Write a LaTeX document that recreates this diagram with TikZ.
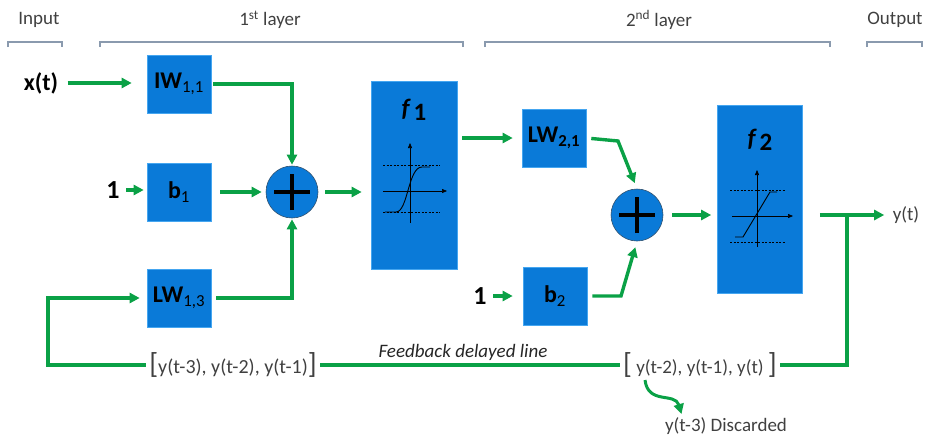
\documentclass[tikz,border=0pt]{standalone}
\usepackage{fontspec}
\setmainfont{Carlito}
\usetikzlibrary{arrows.meta,calc,positioning}
\definecolor{netBlue}{HTML}{0A7AD8}
\definecolor{netEdge}{HTML}{45A6F0}
\definecolor{netGreen}{HTML}{0AA146}
\definecolor{netGray}{HTML}{404040}
\definecolor{netRule}{HTML}{8A9AAE}
\newcommand{\tallL}{{\fontsize{29}{29}\selectfont[}}
\newcommand{\tallR}{{\fontsize{29}{29}\selectfont]}}

\begin{document}
\begin{tikzpicture}[x=1pt, y=-1pt,
        every node/.style={font=\fontsize{19}{22}\selectfont, text=netGray},
        blk/.style={fill=netBlue, draw=netEdge, line width=0.6pt, minimum width=64pt, minimum height=58pt, inner sep=0pt, text=black, font=\fontsize{24}{26}\selectfont\bfseries},
        fbox/.style={blk, minimum width=86pt, minimum height=188pt},
        sumc/.style={circle, fill=netBlue, draw=netGray!70!netBlue, line width=0.6pt, minimum size=52pt,
            path picture={\draw[black, line width=4.8pt]
                ([xshift=-18pt]path picture bounding box.center) -- ([xshift=18pt]path picture bounding box.center)
                ([yshift=-18pt]path picture bounding box.center) -- ([yshift=18pt]path picture bounding box.center);}},
        big/.style={font=\fontsize{24}{26}\selectfont\bfseries, text=black},
        ar/.style={-{Triangle[length=10pt,width=10pt]}, line width=3.4pt, netGreen, shorten >=6pt, shorten <=6pt},
        ln/.style={line width=3.4pt, netGreen},
        brk/.style={netRule, line width=1.2pt},
        axs/.style={-{Triangle[length=5pt,width=4pt]}, black, line width=0.6pt},
        lvl/.style={black, line width=0.5pt, dash pattern=on 2pt off 1.5pt}
    ]
    \useasboundingbox (0,0) rectangle (927,437);

    % layer headings
    \node (hin) at (39,20) {Input};
    \node (hl1) at (270,20) {1\textsuperscript{st} layer};
    \node (hl2) at (659,20) {2\textsuperscript{nd} layer};
    \node (hout) at (895,20) {Output};
    \draw[brk] (8,47) |- (62,42) -- (62,47);
    \draw[brk] (100,47) |- (463,42) -- (463,47);
    \draw[brk] (485,47) |- (830,42) -- (830,47);
    \draw[brk] (867,47) |- (922,42) -- (922,47);

    % first layer
    \node[big] (xin) at (41,83) {x(t)};
    \node[big, font=\fontsize{26}{28}\selectfont\bfseries] (one1) at (113,190) {1};
    \node[blk] (iw11) at (179,84) {IW\textsubscript{\mdseries 1,1}};
    \node[blk] (b1) at (179,192) {b\textsubscript{\mdseries 1}};
    \node[blk] (lw13) at (179,298) {LW\textsubscript{\mdseries 1,3}};
    \node[sumc] (s1) at (292,192) {};
    \node[fbox] (f1) at (414,175) {};
    \node[font=\fontsize{25}{27}\selectfont\bfseries\itshape, text=black] (f1lab) at ([yshift=-29pt]f1.north) {f\,\raisebox{-4pt}{\upshape 1}};

    % second layer
    \node[blk] (lw21) at (554,138) {LW\textsubscript{2,1}};
    \node[big, font=\fontsize{26}{28}\selectfont\bfseries] (one2) at (480,296) {1};
    \node[blk] (b2) at (555,296) {b\textsubscript{\mdseries 2}};
    \node[sumc] (s2) at (637,215) {};
    \node[fbox, minimum width=85pt] (f2) at (760,199) {};
    \node[font=\fontsize{25}{27}\selectfont\bfseries\itshape, text=black] (f2lab) at ([yshift=-35pt]f2.north) {f\,\raisebox{-4pt}{\upshape 2}};
    \node (yout) at (906,215) {y(t)};

    % tapped delay line
    \node[font=\fontsize{20}{22}\selectfont] (d1) at (233,365) {\tallL y(t-3), y(t-2), y(t-1)\tallR};
    \node (d2) at (700,365) {\tallL\ y(t-2), y(t-1), y(t)\ \tallR};
    \node[font=\fontsize{19}{22}\selectfont\itshape, text=black!85] (fbk) at (463,352) {Feedback delayed line};
    \node (disc) at (726,426) {y(t-3) Discarded};
    \coordinate (fbl) at (48,365);
    \coordinate (tap) at (847,215);
    \coordinate (k1) at (618,141);
    \coordinate (k2) at (621,296);
    \coordinate (drop) at (645,380);

    % transfer curves
    \begin{scope}[shift={($(f1.center)+(-4,16)$)}]
        \draw[lvl] (-27,-26) -- (30,-26) (-27,21) -- (30,21);
        \draw[axs] (-27,0) -- (37,0);
        \draw[axs] (0,32) -- (0,-48);
        \draw[black, line width=0.9pt] (-25,21) -- (-14,21) .. controls (-2,21) and (-2,-24) .. (12,-24) -- (20,-24);
    \end{scope}
    \begin{scope}[shift={($(f2.center)+(-3,17)$)}]
        \draw[lvl] (-27,-26) -- (28,-26) (-27,26) -- (28,26);
        \draw[axs] (-25,0) -- (36,0);
        \draw[axs] (0,31) -- (0,-46);
        \draw[black, line width=0.9pt] (-22,21) -- (-14,21) -- (13,-24) -- (20,-24);
    \end{scope}

    % connections
    \draw[ar, shorten >=15pt] (xin) -- (xin -| iw11.west);
    \draw[ar, shorten <=3pt, shorten >=3pt] (one1) -- (one1 -| b1.west);
    \draw[ar, shorten <=9pt, shorten >=4pt] (b1) -- (s1);
    \draw[ar, shorten <=2pt, shorten >=1pt] (iw11.east) -| (s1.north);
    \draw[ar, shorten <=5pt, shorten >=1pt] (lw13.east) -| (s1.south);
    \draw[ar, shorten <=7pt, shorten >=9pt] (s1) -- (s1 -| f1.west);
    \draw[ar, shorten <=5pt, shorten >=9pt] (f1.east |- lw21) -- (lw21.west);
    \draw[ar, shorten <=5pt] (lw21.east) -- (k1) -- (s2.north);
    \draw[ar, shorten <=3pt, shorten >=10pt] (one2) -- (b2);
    \draw[ar, shorten <=5pt] (b2.east) -- (k2) -- (s2.south);
    \draw[ar, shorten <=9pt, shorten >=6pt] (s2) -- (s2 -| f2.west);
    \draw[ar, shorten <=17pt, shorten >=5pt] (f2.east |- s2) -- (yout.west);
    \draw[ln] (tap) |- (d2.east);
    \draw[ln] (d1.east) -- (d2.west);
    \draw[ar, shorten <=0pt, shorten >=7pt] (d1.west) -- (fbl) |- (lw13.west);
    \draw[ar, line width=3pt, shorten <=0pt, shorten >=0pt] (drop) .. controls (648,405) and (675,392) .. ([xshift=20pt]disc.north west);
\end{tikzpicture}
\end{document}
